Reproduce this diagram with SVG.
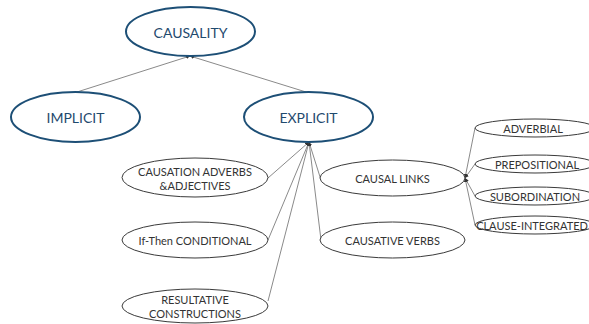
<svg xmlns="http://www.w3.org/2000/svg" width="589" height="324" viewBox="0 0 589 324">
<defs>
<marker id="ah" viewBox="0 0 6 6" refX="6" refY="3" markerWidth="4" markerHeight="4" orient="auto">
<path d="M0,0 L6,3 L0,6 z" fill="#333"/>
</marker>
<style>
.main{fill:#fff;stroke:#1d4f76;stroke-width:2}
.leaf{fill:#fff;stroke:#3a3a3a;stroke-width:1}
.mt{font-family:Lato,"Liberation Sans",sans-serif;font-size:14px;fill:#1f4a6e;text-anchor:middle;dominant-baseline:central}
.lt{font-family:Lato,"Liberation Sans",sans-serif;font-size:11px;fill:#333;text-anchor:middle;dominant-baseline:central}
.e{stroke:#8a8a8a;stroke-width:1;fill:none;marker-end:url(#ah)}
</style>
</defs>
<rect width="589" height="324" fill="#fff"/>
<g id="connectors">
<line class="e" x1="77" y1="92" x2="190" y2="56"/>
<line class="e" x1="306" y1="92" x2="190" y2="56"/>
<line class="e" x1="268" y1="178" x2="309" y2="142"/>
<line class="e" x1="268" y1="240" x2="309" y2="142"/>
<line class="e" x1="268" y1="301" x2="309" y2="142"/>
<line class="e" x1="321" y1="180" x2="309" y2="142"/>
<line class="e" x1="321" y1="240" x2="309" y2="142"/>
<line class="e" x1="475" y1="128" x2="465" y2="178"/>
<line class="e" x1="475" y1="164" x2="465" y2="178"/>
<line class="e" x1="475" y1="196" x2="465" y2="178"/>
<line class="e" x1="475" y1="225" x2="465" y2="178"/>
</g>
<g id="causality"><ellipse class="main" cx="190.5" cy="31.5" rx="64.5" ry="24.5"/><text class="mt" x="190.5" y="32">CAUSALITY</text></g>
<g id="implicit"><ellipse class="main" cx="75.5" cy="117" rx="64.5" ry="25"/><text class="mt" x="75.5" y="117">IMPLICIT</text></g>
<g id="explicit"><ellipse class="main" cx="308.5" cy="117" rx="64.5" ry="25"/><text class="mt" x="308.5" y="117">EXPLICIT</text></g>
<g id="adverbs"><ellipse class="leaf" cx="195" cy="177.5" rx="73" ry="19.5"/><text class="lt" x="195" y="171.5">CAUSATION ADVERBS</text><text class="lt" x="195" y="185">&amp;ADJECTIVES</text></g>
<g id="conditional"><ellipse class="leaf" cx="195" cy="240" rx="73" ry="18"/><text class="lt" x="195" y="240.5">If-Then CONDITIONAL</text></g>
<g id="resultative"><ellipse class="leaf" cx="195" cy="306" rx="73" ry="17"/><text class="lt" x="195" y="299">RESULTATIVE</text><text class="lt" x="195" y="313">CONSTRUCTIONS</text></g>
<g id="causal-links"><ellipse class="leaf" cx="392.5" cy="178" rx="72.5" ry="18"/><text class="lt" x="392.5" y="178.5">CAUSAL LINKS</text></g>
<g id="causative-verbs"><ellipse class="leaf" cx="392.5" cy="240" rx="72.5" ry="18"/><text class="lt" x="392.5" y="240.5">CAUSATIVE VERBS</text></g>
<g id="adverbial"><ellipse class="leaf" cx="535" cy="128" rx="60" ry="9"/><text class="lt" x="533" y="128.5">ADVERBIAL</text></g>
<g id="prepositional"><ellipse class="leaf" cx="535" cy="164" rx="60" ry="9"/><text class="lt" x="537" y="164.5">PREPOSITIONAL</text></g>
<g id="subordination"><ellipse class="leaf" cx="535" cy="196" rx="60" ry="9"/><text class="lt" x="535" y="196.5">SUBORDINATION</text></g>
<g id="clause-integrated"><ellipse class="leaf" cx="535" cy="225" rx="60" ry="9"/><text class="lt" x="532" y="225.5">CLAUSE-INTEGRATED</text></g>
</svg>
